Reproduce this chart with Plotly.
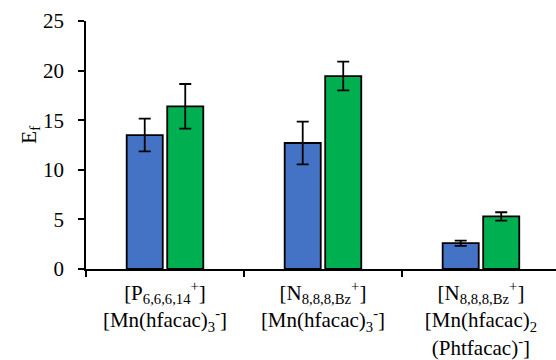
import plotly.graph_objects as go

# Ionic liquid systems (category labels, with sub/superscripts)
categories = [
    "[P<sub>6,6,6,14</sub><sup>+</sup>]<br>[Mn(hfacac)<sub>3</sub><sup>-</sup>]",
    "[N<sub>8,8,8,Bz</sub><sup>+</sup>]<br>[Mn(hfacac)<sub>3</sub><sup>-</sup>]",
    "[N<sub>8,8,8,Bz</sub><sup>+</sup>]<br>[Mn(hfacac)<sub>2</sub><br>(Phtfacac)<sup>-</sup>]",
]
positions = [0, 1, 2]

# Enrichment factors and their uncertainties
series_a = [13.5, 12.7, 2.6]
series_a_err = [1.65, 2.15, 0.27]
series_b = [16.4, 19.45, 5.3]
series_b_err = [2.25, 1.45, 0.42]

font_family = "Liberation Serif"

fig = go.Figure()
fig.add_trace(go.Bar(
    x=positions, y=series_a,
    marker=dict(color="#4472C4", line=dict(color="black", width=1.8)),
    error_y=dict(type="data", array=series_a_err, color="black", thickness=1.8, width=6),
    showlegend=False,
))
fig.add_trace(go.Bar(
    x=positions, y=series_b,
    marker=dict(color="#00B050", line=dict(color="black", width=1.8)),
    error_y=dict(type="data", array=series_b_err, color="black", thickness=1.8, width=6),
    showlegend=False,
))

fig.update_layout(
    width=556, height=360,
    margin=dict(l=86, r=0, t=21, b=91),
    paper_bgcolor="white", plot_bgcolor="white",
    barmode="group", bargap=0.487, bargroupgap=0.11,
    font=dict(family=font_family, size=21, color="black"),
    xaxis=dict(
        range=[-0.5, 2.475], automargin=False,
        tickmode="array", tickvals=positions, ticktext=categories,
        ticks="", showgrid=False, zeroline=False,
        showline=True, linecolor="black", linewidth=1.5,
        tickfont=dict(family=font_family, size=21),
        ticklabelstandoff=4,
        minor=dict(tickmode="array", tickvals=[-0.5, 0.5, 1.5],
                   ticks="outside", ticklen=6, tickwidth=1.5, tickcolor="black"),
    ),
    yaxis=dict(
        range=[0, 25], dtick=5, automargin=False,
        ticks="outside", ticklen=6, tickwidth=1.5, tickcolor="black",
        showgrid=False, zeroline=False,
        showline=True, linecolor="black", linewidth=1.5,
        tickfont=dict(family=font_family, size=21),
        ticklabelstandoff=10,
    ),
    annotations=[dict(
        text="E<sub>f</sub>", textangle=-90,
        xref="paper", yref="paper", x=-0.12, y=0.54,
        xanchor="center", yanchor="middle", showarrow=False,
        font=dict(family=font_family, size=21),
    )],
)

fig.write_html("out.html")
